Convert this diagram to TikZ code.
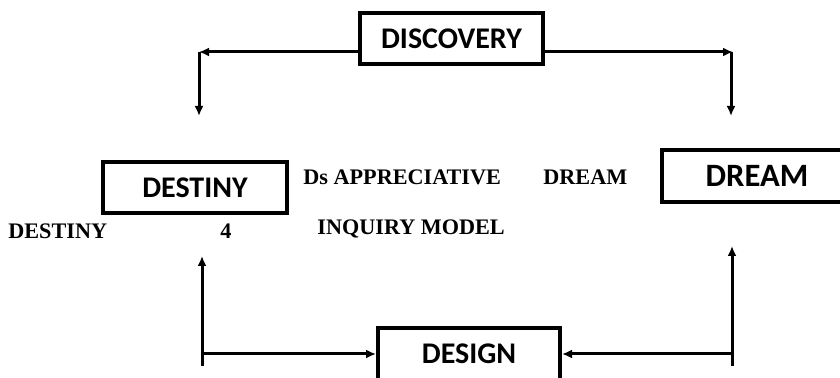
\documentclass[tikz,border=0pt]{standalone}
\usepackage{fontspec}
\setmainfont{Liberation Serif}
\newfontfamily\boxfont{Carlito}
\usetikzlibrary{arrows.meta}

\begin{document}
\begin{tikzpicture}[x=0.5pt, y=-0.5pt]
\tikzstyle{block} = [rectangle, draw=black, line width=2pt, minimum height=25.5pt, inner sep=0pt, font=\boxfont\bfseries\fontsize{15}{18}\selectfont]
\tikzstyle{plainText} = [inner sep=0pt, font=\bfseries\fontsize{11.1}{13}\selectfont]
\tikzstyle{link} = [line width=1.5pt, -{Latex[length=5pt,width=4.5pt]}]
\useasboundingbox (0,0) rectangle (840,378);
\node (B_disc) at (451.5,38.5) [block, minimum width=91.5pt] {DISCOVERY};
\node (B_destiny) at (195,187.5) [block, minimum width=92pt] {DESTINY};
\node (B_dream) at (757,176) [block, minimum width=95pt, minimum height=26pt, font=\boxfont\bfseries\fontsize{16.3}{19}\selectfont] {DREAM\hspace{10.5pt}};
\node (B_design) at (469,354) [block, minimum width=91pt, minimum height=26pt] {DESIGN};
\node (T_ds) at (303,185) [plainText, anchor=base west] {Ds APPRECIATIVE};
\node (T_dream) at (543,185) [plainText, anchor=base west] {DREAM};
\node (T_inquiry) at (317,235) [plainText, anchor=base west] {INQUIRY MODEL};
\node (T_destiny) at (8,239) [plainText, anchor=base west] {DESTINY};
\node (T_four) at (226,239) [plainText, anchor=base] {4};
\coordinate (C_tl) at (199,52);
\coordinate (C_tld) at (199,116);
\coordinate (C_tr) at (733,52);
\coordinate (C_trd) at (731,116);
\coordinate (C_bl) at (202,366);
\coordinate (C_blu) at (202,256);
\coordinate (C_br) at (732,366);
\coordinate (C_bru) at (732,246);
\draw[link] (B_disc.west |- C_tl) -- (C_tl);
\draw[link] (C_tl) -- (C_tld);
\draw[link] (B_disc.east |- C_tr) -- (C_tr);
\draw[link] (C_trd |- C_tr) -- (C_trd);
\draw[link] (C_bl) -- (C_blu);
\draw[link] (B_design.west -| C_bl) -- (B_design.west);
\draw[link] (C_br) -- (C_bru);
\draw[link] (B_design.east -| C_br) -- (B_design.east);
\end{tikzpicture}
\end{document}
